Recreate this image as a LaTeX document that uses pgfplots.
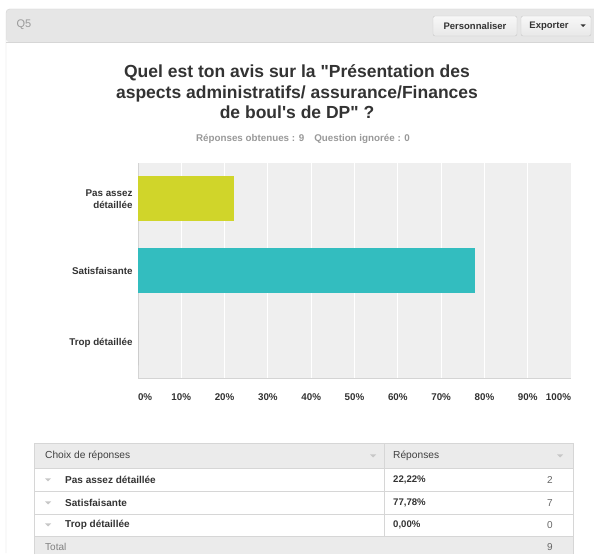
\documentclass[border=0pt]{standalone}
\usepackage{fontspec}
\setmainfont{Liberation Sans}
\usepackage{pgfplots}
\pgfplotsset{compat=1.18}
\definecolor{smlime}{HTML}{D0D52A}
\definecolor{smteal}{HTML}{33BDBF}
\definecolor{smtext}{HTML}{333333}
\definecolor{smgray}{HTML}{999999}
\definecolor{smbg}{HTML}{EFEFEF}
\definecolor{smhead}{HTML}{E6E6E6}
\definecolor{smline}{HTML}{D6D6D6}
\definecolor{smrow}{HTML}{EBEBEB}
\newcommand{\fs}[2]{\fontsize{#1bp}{#2bp}\selectfont}

\begin{document}
\begin{tikzpicture}
\begin{scope}[x=1bp,y=1bp]
\path[use as bounding box] (0,0) rectangle (594,553);
\fill[white] (0,0) rectangle (594,553);

% card frame and header bar
\fill[smhead, rounded corners=3bp] (6,511) rectangle (600,544);
\draw[smline] (6,0) -- (6,540) to[out=90,in=180] (10,544) -- (594,544);
\draw[smline] (6,511) -- (594,511);
\node[anchor=west, text=smgray, font=\fs{11}{13}] at (13,528) {Q5};

% buttons
\draw[black!22, rounded corners=2bp, top color=white!97!black, bottom color=black!9]
  (433,517) rectangle (517,537);
\node[text=smtext, font=\fs{9.5}{11}\bfseries] at (475,527) {Personnaliser};
\draw[black!22, rounded corners=2bp, top color=white!97!black, bottom color=black!9]
  (521,517) rectangle (591,537);
\node[text=smtext, font=\fs{9.5}{11}\bfseries] at (549,527) {Exporter};
\fill[smtext] (580.5,528.5) -- (585.5,528.5) -- (583,526) -- cycle;

% title
\node[align=center, text=smtext, font=\fs{17.5}{20.5}\bfseries] at (297,461)
  {Quel est ton avis sur la \textquotedbl Présentation des\\
   aspects administratifs/ assurance/Finances\\
   de boul\textquotesingle s de DP\textquotedbl\ ?};
\node[text=smgray, font=\fs{9.8}{11}\bfseries] at (303,414)
  {Réponses obtenues : 9\hspace{10bp}Question ignorée : 0};
\end{scope}

\begin{axis}[
  at={(138bp,174bp)}, anchor=south west,
  scale only axis, width=433bp, height=216bp,
  xmin=0, xmax=100, ymin=-0.5, ymax=2.5,
  axis background/.style={fill=smbg},
  axis lines*=left,
  axis line style={-, draw=black!17, line width=1bp},
  xtick={0,10,...,100},
  xticklabels={\makebox[0pt][l]{0\%},10\%,20\%,30\%,40\%,50\%,60\%,70\%,80\%,90\%,\makebox[0pt][r]{100\%}},
  ytick={0,1,2},
  yticklabels={Trop détaillée,Satisfaisante,Pas assez\\détaillée},
  major tick length=0pt,
  xmajorgrids, grid style={white, line width=1bp},
  tick label style={font=\fs{9.8}{11.5}\bfseries, text=smtext},
  yticklabel style={align=right, xshift=-2bp},
  xticklabel style={yshift=-11.5bp},
]
\addplot[xbar, bar shift=0pt, bar width=45bp, fill=smlime, draw=none] coordinates {(22.22,2)};
\addplot[xbar, bar shift=0pt, bar width=45bp, fill=smteal, draw=none] coordinates {(77.78,1)};
\addplot[xbar, bar shift=0pt, bar width=45bp, fill=smgray, draw=none] coordinates {(0,0)};
\end{axis}

% response table
\begin{scope}[x=1bp,y=1bp, every node/.style={inner xsep=0pt}]
\fill[smrow] (34,85) rectangle (573,110);
\fill[smrow] (34,-1) rectangle (573,17);
\draw[smline] (34,-1) -- (34,110) -- (573,110) -- (573,-1);
\foreach \yy in {85,62,39,17} \draw[smline] (34,\yy) -- (573,\yy);
\draw[smline] (384,17) -- (384,110);
\node[anchor=west, text=black!75, font=\fs{10.2}{12}] at (45,97) {Choix de réponses};
\node[anchor=west, text=black!75, font=\fs{10.2}{12}] at (393,97) {Réponses};
\foreach \xx in {373,560}
  \fill[black!22] (\xx-3,98.5) -- (\xx+3,98.5) -- (\xx,95.5) -- cycle;
\foreach \yy/\lab/\pct/\n in {73/{Pas assez détaillée}/{22,22\%}/2,
                               50/{Satisfaisante}/{77,78\%}/7,
                               28/{Trop détaillée}/{0,00\%}/0} {
  \fill[black!22] (45,\yy+1.5) -- (51,\yy+1.5) -- (48,\yy-1.5) -- cycle;
  \node[anchor=west, text=smtext, font=\fs{10}{12}\bfseries] at (65,\yy) {\lab};
  \node[anchor=west, text=smtext, font=\fs{9.6}{12}\bfseries] at (393,\yy) {\pct};
  \node[anchor=east, text=black!60, font=\fs{10}{12}] at (553,\yy) {\n};
}
\node[anchor=west, text=black!50, font=\fs{10}{12}] at (45,6) {Total};
\node[anchor=east, text=black!60, font=\fs{10}{12}] at (553,6) {9};
\end{scope}
\end{tikzpicture}
\end{document}
